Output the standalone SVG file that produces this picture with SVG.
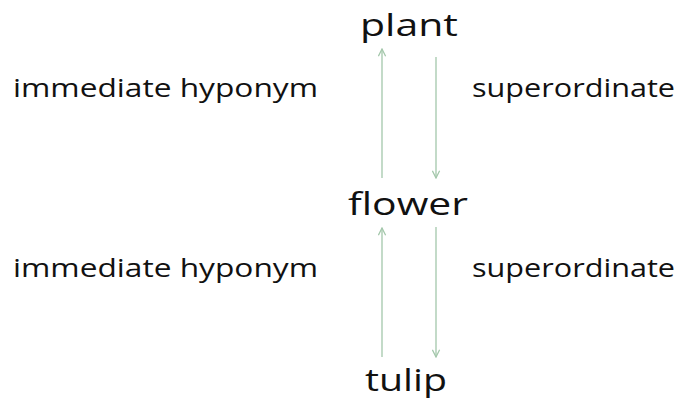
<svg xmlns="http://www.w3.org/2000/svg" width="681" height="401" viewBox="0 0 681 401">
<defs>
<style>
.node{font-family:"Open Sans","Noto Sans","DejaVu Sans",sans-serif;fill:#111;}
.big{font-size:31px;}
.lbl{font-size:26px;}
.conn{stroke:#a3c7ab;stroke-width:1.3;fill:none;}
</style>
<marker id="ah" viewBox="0 0 10 10" refX="9" refY="5" markerWidth="9" markerHeight="9" markerUnits="userSpaceOnUse" orient="auto">
<path d="M1,1 L9,5 L1,9" fill="none" stroke="#a3c7ab" stroke-width="1.4"/>
</marker>
</defs>
<rect width="681" height="401" fill="#fff"/>
<g id="plant" class="node"><text class="big" x="360" y="36" textLength="98" lengthAdjust="spacingAndGlyphs">plant</text></g>
<g id="flower" class="node"><text class="big" x="348" y="215" textLength="120" lengthAdjust="spacingAndGlyphs">flower</text></g>
<g id="tulip" class="node"><text class="big" x="365" y="391" textLength="82" lengthAdjust="spacingAndGlyphs">tulip</text></g>
<g id="label-hyponym-1" class="node"><text class="lbl" x="13" y="97" textLength="305" lengthAdjust="spacingAndGlyphs">immediate hyponym</text></g>
<g id="label-super-1" class="node"><text class="lbl" x="472" y="97" textLength="203" lengthAdjust="spacingAndGlyphs">superordinate</text></g>
<g id="label-hyponym-2" class="node"><text class="lbl" x="13" y="277" textLength="305" lengthAdjust="spacingAndGlyphs">immediate hyponym</text></g>
<g id="label-super-2" class="node"><text class="lbl" x="472" y="277" textLength="203" lengthAdjust="spacingAndGlyphs">superordinate</text></g>
<g id="connectors">
<line class="conn" x1="382" y1="178" x2="382" y2="49" marker-end="url(#ah)"/>
<line class="conn" x1="436" y1="57" x2="436" y2="178" marker-end="url(#ah)"/>
<line class="conn" x1="382" y1="357" x2="382" y2="228" marker-end="url(#ah)"/>
<line class="conn" x1="436" y1="227" x2="436" y2="357" marker-end="url(#ah)"/>
</g>
</svg>
